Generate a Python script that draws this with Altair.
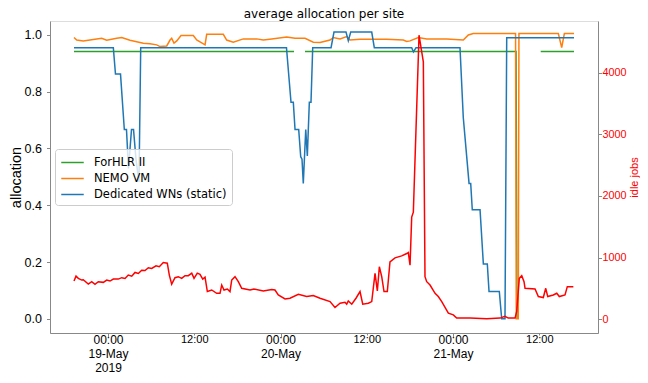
import altair as alt
import pandas as pd

# ---------------- data (hours since 2019-05-19 00:00 UTC) ----------------
red_hours = [-4.73,-4.45,-4.13,-3.66,-3.44,-2.74,-2.27,-1.81,-1.35,-0.65,-0.18,0.28,0.74,1.43,1.91,2.37,2.82,3.30,3.76,4.22,
             4.69,5.15,5.61,6.08,6.68,7.14,7.69,8.25,8.53,8.86,9.32,9.78,10.25,10.71,11.17,11.65,11.97,12.42,12.80,13.18,
             13.50,13.82,14.43,15.12,15.58,15.82,16.14,16.60,16.97,17.21,17.67,18.13,18.60,19.76,20.31,21.61,22.78,23.23,23.69,24.63,
             25.32,26.48,27.64,28.56,29.50,30.89,31.58,32.28,32.97,33.21,33.43,33.91,34.50,35.06,35.44,36.22,36.69,37.15,37.47,37.75,
             38.08,38.40,38.86,39.23,39.93,40.86,41.56,41.78,42.02,42.25,42.48,43.27,43.87,44.10,44.34,44.80,45.50,45.95,46.43,47.35,
             48.04,48.51,50.37,52.69,54.54,55.23,55.69,56.63,56.86,57.22,57.56,57.88,58.02,59.41,59.87,60.56,60.90,61.18,61.95,62.43,
             62.79,63.58,63.90,64.74]
red_jobs = [618,698,661,634,640,569,608,565,608,597,634,618,650,650,673,661,715,698,758,742,
            795,790,834,823,866,850,919,908,715,569,673,689,661,705,705,747,661,747,726,650,
            682,447,473,419,419,553,473,489,447,634,689,608,500,473,489,457,479,473,392,327,
            339,403,366,382,339,285,189,258,274,242,295,242,339,447,242,258,285,742,457,850,
            689,447,447,931,995,1027,1065,1081,876,1657,1737,4613,4178,689,608,553,419,366,285,97,
            69,16,16,5,16,44,16,16,124,661,705,608,500,489,366,350,500,366,392,419,
            366,392,527,527]

blue_hours = [-4.73,0.74,1.04,1.74,2.27,2.57,2.85,3.27,3.55,3.90,4.31,4.55,24.83,25.46,25.78,26.02,26.53,26.81,26.99,27.17,
              27.51,27.73,28.01,28.24,28.48,31.03,31.44,33.11,33.43,33.77,36.69,37.05,42.25,42.50,42.85,48.97,49.43,50.23,50.46,50.68,
              51.76,52.22,52.77,53.01,54.44,54.77,55.23,55.47,64.83]
blue_alloc = [0.955,0.955,0.862,0.862,0.667,0.667,0.53,0.667,0.667,0.56,0.482,0.955,0.955,0.763,0.763,0.667,0.667,0.571,0.562,0.477,
              0.667,0.574,0.763,0.763,0.955,0.955,1.01,1.01,0.98,1.01,1.01,0.955,0.955,0.94,0.955,0.955,0.708,0.477,0.477,0.384,
              0.384,0.193,0.193,0.096,0.096,0.0,0.0,0.99,0.99]

orange_hours = [-4.73,-4.35,-3.44,-2.05,-0.88,-0.18,1.21,1.91,3.06,4.91,5.84,6.78,7.23,8.17,8.63,8.86,9.18,9.56,10.16,11.87,
                12.34,13.50,13.73,16.04,16.51,17.43,18.82,20.69,21.61,22.78,24.86,26.02,27.41,28.56,29.50,30.89,31.35,32.28,33.21,33.67,
                35.06,38.78,41.08,41.56,42.02,43.17,44.34,47.12,49.43,50.13,50.82,56.49,56.70,56.80,57.08,57.17,62.65,63.12,63.49,64.83]
orange_alloc = [0.991,0.982,0.979,0.984,0.988,0.981,0.988,0.991,0.981,0.971,0.969,0.965,0.959,0.961,0.982,0.988,0.971,0.979,0.998,0.998,
                0.982,0.965,1.002,1.002,0.982,0.974,0.986,0.986,0.982,0.986,0.993,0.988,0.988,0.974,0.973,0.982,0.991,0.986,0.994,0.982,
                0.985,0.985,0.982,0.977,0.979,0.991,0.986,0.986,0.982,1.0,1.005,1.005,1.005,0.0,0.0,1.005,1.005,0.955,1.005,1.005]

green_hours = [-4.73,25.88,27.41,56.77,56.90,60.20,64.83]
green_alloc = [0.9415,0.9415,0.9415,0.9415,0.0,0.9415,0.9415]
green_piece = [0,0,1,1,1,2,2]

series_names = ["ForHLR II", "NEMO VM", "Dedicated WNs (static)"]
series_colors = ["#2ca02c", "#ff7f0e", "#1f77b4"]

x_ticks_hours = [0, 12, 24, 36, 48, 60]
left_ticks = [0.0, 0.2, 0.4, 0.6, 0.8, 1.0]
right_ticks = [0, 1000, 2000, 3000, 4000]

# ---------------- build tables ----------------
BASE_MS = int(pd.Timestamp("2019-05-19T00:00:00Z").value // 10**6)
H = 3600000


def ms(h):
    return BASE_MS + int(round(h * H))


assert len(red_hours) == len(red_jobs)
assert len(blue_hours) == len(blue_alloc)
assert len(orange_hours) == len(orange_alloc)

rows = []
for h, v, p in zip(green_hours, green_alloc, green_piece):
    rows.append({"t": ms(h), "v": v, "series": series_names[0], "piece": f"g{p}", "o": 0})
for h, v in zip(orange_hours, orange_alloc):
    rows.append({"t": ms(h), "v": v, "series": series_names[1], "piece": "o", "o": 1})
for h, v in zip(blue_hours, blue_alloc):
    rows.append({"t": ms(h), "v": v, "series": series_names[2], "piece": "b", "o": 2})
alloc_df = pd.DataFrame(rows)

red_df = pd.DataFrame({"t": [ms(h) for h in red_hours], "jobs": red_jobs})

x_domain = [ms(-8.07), ms(68.17)]
x_values = [ms(h) for h in x_ticks_hours]

W, HGT = 548, 312
FONT = "DejaVu Sans"
major_test = "utcFormat(datum.value, '%H') == '00'"
label_expr = ("utcFormat(datum.value, '%H') == '00' ? "
              "(utcFormat(datum.value, '%d') == '19' ? ['00:00', utcFormat(datum.value, '%d-%b'), utcFormat(datum.value, '%Y')] "
              ": ['00:00', utcFormat(datum.value, '%d-%b')]) : utcFormat(datum.value, '%H:%M')")

x_axis = alt.Axis(
    values=x_values,
    labelExpr=label_expr,
    labelFontSize={"condition": {"test": major_test, "value": 12}, "value": 11},
    tickSize={"condition": {"test": major_test, "value": 3.5}, "value": 2},
    labelLineHeight=14,
    labelPadding=-2,
    labelOverlap=False,
    labelFlush=False,
    labelBaseline="top",
    title=None,
    grid=False,
)
x_scale = alt.Scale(type="utc", domain=x_domain)

lines = alt.Chart(alloc_df).mark_line(strokeWidth=1.5, clip=True).encode(
    x=alt.X("t:T", scale=x_scale, axis=x_axis),
    y=alt.Y(
        "v:Q",
        scale=alt.Scale(domain=[-0.05, 1.049], nice=False, zero=False),
        axis=alt.Axis(values=left_ticks, format=".1f", title="allocation", titleFontSize=14.5,
                      titleFontWeight="normal", labelFontSize=12.5, tickSize=3.5, labelPadding=5,
                      titlePadding=1, grid=False, labelFlush=False),
    ),
    color=alt.Color(
        "series:N",
        scale=alt.Scale(domain=series_names, range=series_colors),
        legend=alt.Legend(
            orient="none", legendX=5, legendY=128, title=None,
            symbolType="M-1.5,0L1.5,0", symbolSize=225, symbolStrokeWidth=1.5,
            labelFontSize=11.5, labelFont=FONT, labelOffset=13,
            fillColor="rgba(255,255,255,0.8)", strokeColor="#cccccc",
            cornerRadius=3, padding=5, rowPadding=2, symbolOffset=4,
        ),
    ),
    detail="piece:N",
    order="o:Q",
)

red = alt.Chart(red_df).mark_line(strokeWidth=1.5, color="#ff0000", clip=True).encode(
    x=alt.X("t:T", scale=x_scale, axis=x_axis),
    y=alt.Y(
        "jobs:Q",
        scale=alt.Scale(domain=[-226, 4843], nice=False, zero=False),
        axis=alt.Axis(orient="right", values=right_ticks, format="d", title="idle jobs",
                      titleColor="#ff0000", labelColor="#ff0000", titleFontSize=11,
                      titleFontWeight="normal", titleAngle=270, titleBaseline="alphabetic",
                      titleAlign="center", titleX=39.5, titleY=HGT / 2,
                      labelFontSize=10.8, tickSize=3.5, labelPadding=0.5,
                      grid=False, labelFlush=False),
    ),
)

chart = alt.layer(lines, red).resolve_scale(y="independent").properties(
    width=W,
    height=HGT,
    padding={"left": 42, "top": 13, "right": 42, "bottom": 42},
    autosize=alt.AutoSizeParams(type="none"),
    title=alt.TitleParams("average allocation per site", fontSize=12, fontWeight="normal",
                          font=FONT, anchor="middle", offset=0, color="black"),
).configure_view(
    stroke="black", strokeWidth=1
).configure_axis(
    labelFont=FONT, titleFont=FONT, domainColor="black", tickColor="black",
    labelColor="black", titleColor="black", domainWidth=1, tickWidth=1,
).configure(background="white")

chart.save("out.html", embed_options={"renderer": "svg", "actions": False})
